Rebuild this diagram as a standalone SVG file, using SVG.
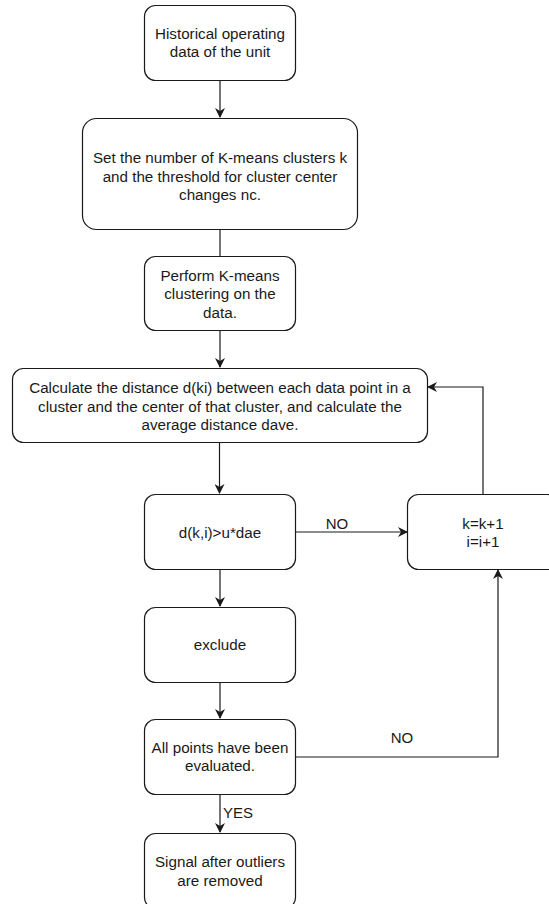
<svg xmlns="http://www.w3.org/2000/svg" width="549" height="904" viewBox="0 0 549 904">
<defs>
<style>
.box{fill:#fff;stroke:#1a1a1a;stroke-width:1.2}
.t{font-family:"Liberation Sans",Arial,sans-serif;font-size:15.2px;fill:#1a1a1a;text-anchor:middle;dominant-baseline:central}
.lbl{font-family:"Liberation Sans",Arial,sans-serif;font-size:15px;fill:#1a1a1a;dominant-baseline:central}
.c{fill:none;stroke:#1a1a1a;stroke-width:1.2}
</style>
<marker id="arr" viewBox="0 0 10 10" refX="9" refY="5" markerWidth="10" markerHeight="10" markerUnits="userSpaceOnUse" orient="auto">
<path d="M0,0 L10,5 L0,10 L3,5 z" fill="#1a1a1a"/>
</marker>
</defs>
<rect width="549" height="904" fill="#fff"/>
<g id="connectors">
<path class="c" d="M220,80 V117" marker-end="url(#arr)"/>
<path class="c" d="M220,230 V256"/>
<path class="c" d="M220,330 V367" marker-end="url(#arr)"/>
<path class="c" d="M219.5,443 V493" marker-end="url(#arr)"/>
<path class="c" d="M296,532 H407" marker-end="url(#arr)"/>
<text class="lbl" x="337" y="523" text-anchor="middle">NO</text>
<path class="c" d="M483,494 V387 H428" marker-end="url(#arr)"/>
<path class="c" d="M220,569 V606" marker-end="url(#arr)"/>
<path class="c" d="M220,682 V718" marker-end="url(#arr)"/>
<path class="c" d="M296,757 H498 V570" marker-end="url(#arr)"/>
<text class="lbl" x="402" y="737" text-anchor="middle">NO</text>
<path class="c" d="M220,794 V832" marker-end="url(#arr)"/>
<text class="lbl" x="223" y="812">YES</text>
</g>
<g id="n1">
<rect class="box" x="144.5" y="5.5" width="151" height="75" rx="11"/>
<text class="t" x="220" y="33">Historical operating</text>
<text class="t" x="220" y="51.5">data of the unit</text>
</g>
<g id="n2">
<rect class="box" x="82.5" y="118.5" width="275" height="111" rx="14"/>
<text class="t" x="220" y="157.5">Set the number of K-means clusters k</text>
<text class="t" x="220" y="176">and the threshold for cluster center</text>
<text class="t" x="220" y="194.5">changes nc.</text>
</g>
<g id="n3">
<rect class="box" x="144.5" y="256.5" width="151" height="74" rx="11"/>
<text class="t" x="220" y="275">Perform K-means</text>
<text class="t" x="220" y="293.5">clustering on the</text>
<text class="t" x="220" y="312">data.</text>
</g>
<g id="n4">
<rect class="box" x="12.5" y="368.5" width="415" height="74" rx="11"/>
<text class="t" x="220" y="387.5">Calculate the distance d(ki) between each data point in a</text>
<text class="t" x="220" y="406">cluster and the center of that cluster, and calculate the</text>
<text class="t" x="220" y="424.5">average distance dave.</text>
</g>
<g id="n5">
<rect class="box" x="144.5" y="494.5" width="151" height="75" rx="11"/>
<text class="t" x="220" y="532">d(k,i)&gt;u*dae</text>
</g>
<g id="n6">
<rect class="box" x="407.5" y="494.5" width="151" height="75" rx="11"/>
<text class="t" x="483" y="523">k=k+1</text>
<text class="t" x="483" y="541">i=i+1</text>
</g>
<g id="n7">
<rect class="box" x="144.5" y="607.5" width="151" height="75" rx="11"/>
<text class="t" x="220" y="644">exclude</text>
</g>
<g id="n8">
<rect class="box" x="144.5" y="719.5" width="151" height="75" rx="11"/>
<text class="t" x="220" y="747">All points have been</text>
<text class="t" x="220" y="765.5">evaluated.</text>
</g>
<g id="n9">
<rect class="box" x="144.5" y="833.5" width="151" height="75" rx="11"/>
<text class="t" x="220" y="861.5">Signal after outliers</text>
<text class="t" x="220" y="880">are removed</text>
</g>
</svg>
